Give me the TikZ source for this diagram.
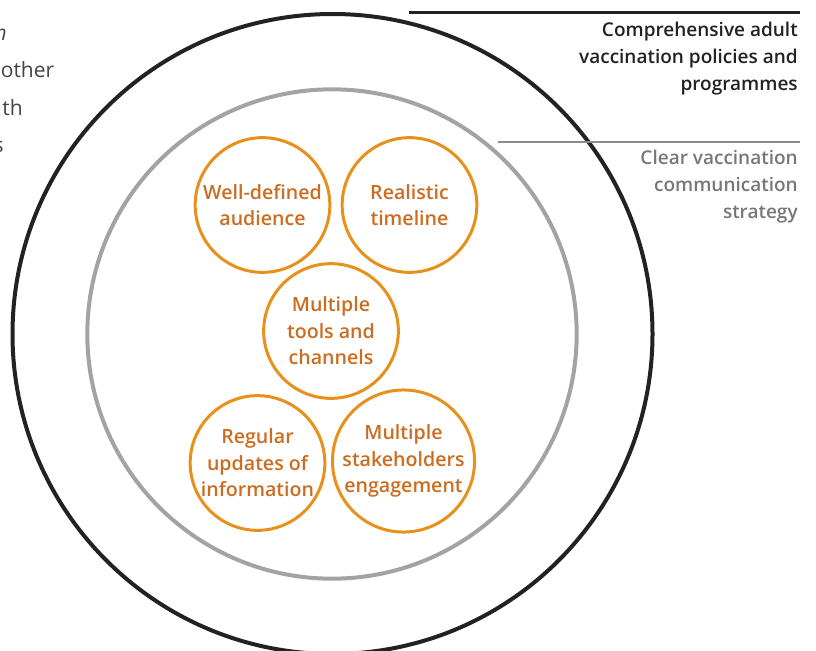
\documentclass[tikz,border=0pt]{standalone}
\usepackage{fontspec}
\setmainfont{Open Sans}[BoldFont={Open Sans Semibold}]
\usepackage{xcolor}
\usetikzlibrary{positioning}
\definecolor{ink}{HTML}{222222}
\definecolor{ring}{HTML}{A3A3A3}
\definecolor{rule}{HTML}{8C8C8C}
\definecolor{greytext}{HTML}{777777}
\definecolor{bodytext}{HTML}{444444}
\definecolor{amber}{HTML}{E8901C}
\definecolor{amberdark}{HTML}{CC6C20}
\begin{document}
\begin{tikzpicture}[x=0.75pt,y=-0.75pt,
  lbl/.style={font=\fontsize{14.25}{19.9}\selectfont\bfseries,align=right,anchor=base east,inner sep=0pt},
  element/.style={circle,draw=amber,line width=2.25pt,minimum size=101pt,inner sep=0pt,align=center,
    text=amberdark,font=\fontsize{14.7}{19.9}\selectfont\bfseries},
  frag/.style={anchor=base east,inner sep=0pt,text=bodytext,font=\fontsize{15.75}{18}\selectfont}]
\useasboundingbox (0,0) rectangle (816,650);
\node[circle,draw=ink,line width=3pt,minimum size=480pt] (policy) at (332.5,334) {};
\node[circle,draw=ring,line width=3pt,minimum size=367pt] (strategy) at (332,334) {};
\node[element] (audience) at (262.5,205) {Well-defined\\audience};
\node[element] (timeline) at (409.5,205) {Realistic\\timeline};
\node[element] (tools) at (331,331) {Multiple\\tools and\\channels};
\node[element] (updates) at (257.5,463) {Regular\\updates of\\information};
\node[element] (stakeholders) at (403.5,461) {Multiple\\stakeholders\\engagement};
\coordinate (policyA) at (409,12); \coordinate (policyB) at (800,12);
\coordinate (strategyA) at (498,142); \coordinate (strategyB) at (800,142);
\draw[ink,line width=2.25pt] (policyA) -- (policyB);
\draw[rule,line width=2pt] (strategyA) -- (strategyB);
\node[lbl,text=ink] (policytxt) at (798,90) {Comprehensive adult\\vaccination policies and\\programmes};
\node[lbl,text=greytext] (strategytxt) at (798,218) {Clear vaccination\\communication\\strategy};
\node[frag] (frag1) at (7,40) {\itshape m};
\node[frag] (frag2) at (54.5,77) {other};
\node[frag] (frag3) at (23,115) {th};
\node[frag] (frag4) at (4,152) {s};
\end{tikzpicture}
\end{document}
